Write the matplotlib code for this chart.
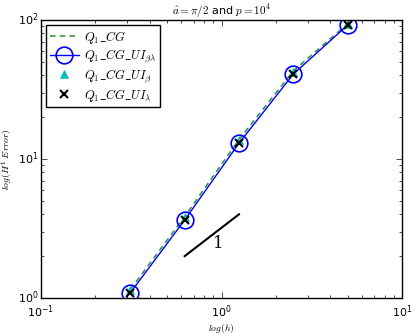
import matplotlib
matplotlib.use("Agg")
from matplotlib import pyplot as plt

# mesh size and H1 errors
h = [0.3125, 0.625, 1.25, 2.5, 5.0]
err_cg = [1.15, 3.85, 13.8, 43.0, 94.0]
err_ui_bl = [1.09, 3.64, 13.0, 40.8, 92.0]
err_ui_b = [1.14, 3.80, 13.6, 42.5, 93.5]
err_ui_l = [1.09, 3.64, 13.0, 40.8, 92.0]
# slope-one reference segment
slope_x = [0.625, 1.25]
slope_y = [2.0, 4.0]

plt.style.use("classic")
plt.rcParams["figure.facecolor"] = "white"
plt.rcParams["savefig.facecolor"] = "white"

fig = plt.figure(figsize=(4.16, 3.33), dpi=100)
ax = fig.add_axes([41 / 416, 35 / 333, 361 / 416, 278 / 333])

ax.loglog(h, err_cg, "--", color="#3a9a3a", linewidth=1.2, dashes=(4, 3),
          label=r"$Q_1\_CG$")
ax.loglog(h, err_ui_bl, "b-o", markersize=12, markerfacecolor="none",
          markeredgecolor="b", markeredgewidth=1.2, linewidth=1,
          label=r"$Q_1\_CG\_UI_{\beta\lambda}$")
ax.loglog(h, err_ui_b, "c^", markersize=6, markeredgecolor="c",
          label=r"$Q_1\_CG\_UI_{\beta}$")
ax.loglog(h, err_ui_l, "kx", markersize=6, markeredgewidth=1.5,
          label=r"$Q_1\_CG\_UI_{\lambda}$")
ax.loglog(slope_x, slope_y, "k-", linewidth=1.5)
ax.text(0.9, 2.3, "1", fontsize=12, family="serif")

ax.set_xlim(0.1, 10)
ax.set_ylim(1, 100)
ax.tick_params(axis="x", labelsize=8, pad=4)
ax.tick_params(axis="y", labelsize=8, pad=2)
ax.set_title(r"$\hat{a}=\pi/2$ and $p=10^4$", fontsize=8, pad=4)
ax.set_xlabel(r"$log(h)$", fontsize=7, labelpad=1)
ax.set_ylabel(r"$log(H^1\ Error)$", fontsize=7, labelpad=2)
ax.legend(loc="upper left", fontsize=9, numpoints=1, fancybox=False,
          borderaxespad=0.4, borderpad=0.3, labelspacing=0.15,
          handlelength=2.3, handletextpad=0.4)

fig.savefig("out.png", dpi=100)
